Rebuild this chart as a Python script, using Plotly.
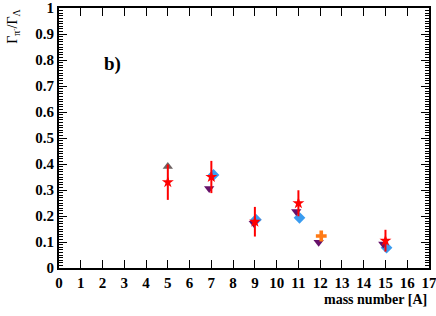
import plotly.graph_objects as go

# Red stars with error bars
star_A = [5, 7, 9, 11, 15]
star_val = [0.33, 0.35, 0.178, 0.249, 0.105]
star_err = [0.068, 0.062, 0.057, 0.05, 0.042]

# Gray upward triangle
tri_up_A = [5]
tri_up_val = [0.39]

# Blue diamonds
dia_A = [7.1, 9.05, 11.05, 15.05]
dia_val = [0.358, 0.186, 0.193, 0.078]

# Purple downward triangles
tri_dn_A = [6.9, 8.95, 10.9, 11.93, 14.9]
tri_dn_val = [0.306, 0.172, 0.217, 0.099, 0.092]

# Orange cross
cross_A = [12.05]
cross_val = [0.123]

x_ticks = list(range(0, 18))
y_ticks = [0, 0.1, 0.2, 0.3, 0.4, 0.5, 0.6, 0.7, 0.8, 0.9, 1]
y_ticktext = ["0", "0.1", "0.2", "0.3", "0.4", "0.5", "0.6", "0.7", "0.8", "0.9", "1"]

serif = "Liberation Serif"

fig = go.Figure()
fig.add_trace(go.Scatter(x=tri_up_A, y=tri_up_val, mode="markers",
                         marker=dict(symbol="triangle-up", size=9, color="#6f6363")))
fig.add_trace(go.Scatter(x=dia_A, y=dia_val, mode="markers",
                         marker=dict(symbol="diamond", size=9, color="#3a9cf0")))
fig.add_trace(go.Scatter(x=tri_dn_A, y=tri_dn_val, mode="markers",
                         marker=dict(symbol="triangle-down", size=9, color="#66116a")))
fig.add_trace(go.Scatter(x=cross_A, y=cross_val, mode="markers",
                         marker=dict(symbol="cross", size=9, color="#ff7a14")))
fig.add_trace(go.Scatter(x=star_A, y=star_val, mode="markers",
                         error_y=dict(type="data", array=star_err, color="#ff0000",
                                      thickness=2, width=0),
                         marker=dict(symbol="star", size=9, color="#ff0000")))

fig.add_annotation(x=2.45, y=0.785, xref="x", yref="y", text="<b>b)</b>",
                   showarrow=False, font=dict(family=serif, size=19, color="black"))
fig.add_annotation(x=1.0, y=-0.12, xref="paper", yref="paper", xanchor="right",
                   yanchor="middle", text="<b>mass number [A]</b>", showarrow=False,
                   font=dict(family=serif, size=14, color="black"))
fig.add_annotation(x=-0.125, y=1.0, xref="paper", yref="paper", xanchor="center",
                   yanchor="top", text="Γ<sub>π<sup>-</sup></sub>/Γ<sub>Λ</sub>",
                   textangle=-90, showarrow=False,
                   font=dict(family=serif, size=14, color="black"))

fig.update_layout(
    width=436, height=316,
    margin=dict(l=59, r=7, t=8, b=48),
    paper_bgcolor="white", plot_bgcolor="white",
    showlegend=False,
    xaxis=dict(range=[0, 17], tickvals=x_ticks, ticks="inside", ticklen=8,
               tickcolor="black", showline=True, linecolor="black", linewidth=2,
               mirror="ticks", showgrid=False, zeroline=False,
               ticklabeloverflow="allow", automargin=False,
               tickfont=dict(family=serif, size=15, color="black", weight="bold")),
    yaxis=dict(range=[0, 1], tickvals=y_ticks, ticktext=y_ticktext, ticks="inside",
               ticklen=8, tickcolor="black", showline=True, linecolor="black",
               linewidth=2, mirror="ticks", showgrid=False, zeroline=False,
               automargin=False,
               minor=dict(dtick=0.01, ticks="inside", ticklen=4, tickcolor="black"),
               tickfont=dict(family=serif, size=15, color="black", weight="bold")),
)

fig.write_html("out.html", config={"displayModeBar": False},
               post_script="document.body.style.margin='0';document.body.style.overflow='hidden';")
